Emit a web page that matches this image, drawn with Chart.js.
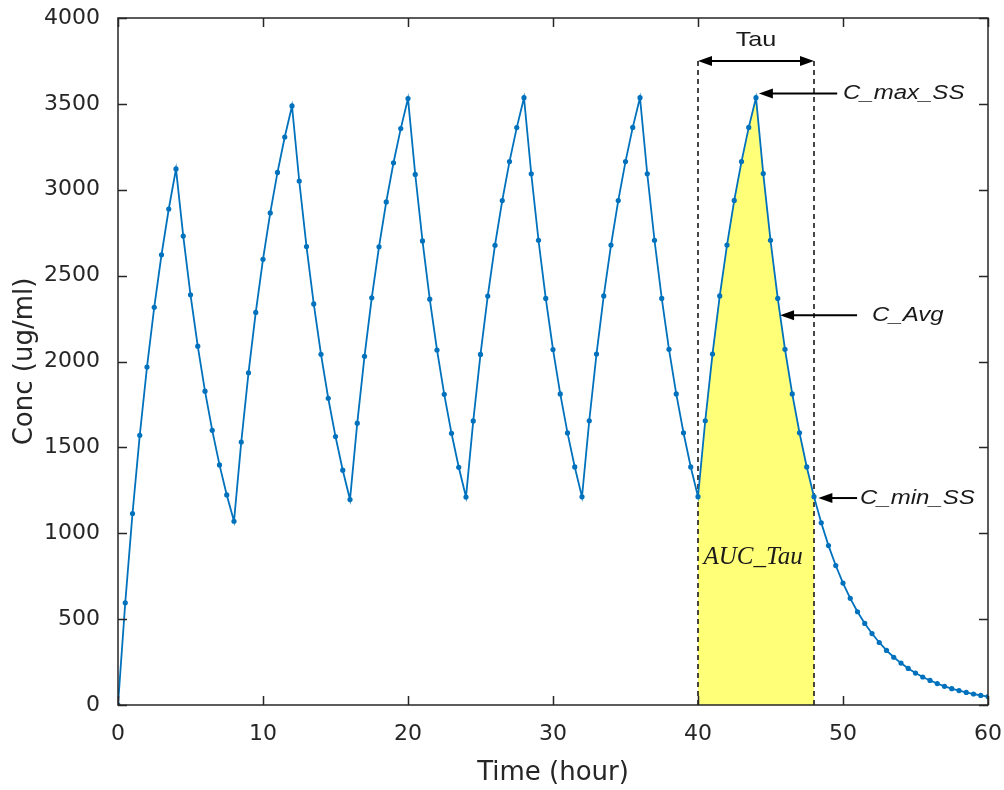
<!DOCTYPE html>
<html>
<head>
<meta charset="utf-8">
<script src="https://cdn.jsdelivr.net/npm/chart.js@4.4.1/dist/chart.umd.min.js"></script>
<style>
  body { margin: 0; background: #fff; }
  #concChart { display: block; }
</style>
</head>
<body>
<canvas id="concChart" width="1004" height="790"></canvas>
<script>
// sampling times (hour)
const times = [
  0, 0.5, 1, 1.5, 2, 2.5, 3, 3.5, 4, 4.5, 5, 5.5, 6, 6.5, 7, 7.5, 8, 8.5, 9, 9.5,
  10, 10.5, 11, 11.5, 12, 12.5, 13, 13.5, 14, 14.5, 15, 15.5, 16, 16.5, 17, 17.5, 18, 18.5, 19, 19.5,
  20, 20.5, 21, 21.5, 22, 22.5, 23, 23.5, 24, 24.5, 25, 25.5, 26, 26.5, 27, 27.5, 28, 28.5, 29, 29.5,
  30, 30.5, 31, 31.5, 32, 32.5, 33, 33.5, 34, 34.5, 35, 35.5, 36, 36.5, 37, 37.5, 38, 38.5, 39, 39.5,
  40, 40.5, 41, 41.5, 42, 42.5, 43, 43.5, 44, 44.5, 45, 45.5, 46, 46.5, 47, 47.5, 48, 48.5, 49, 49.5,
  50, 50.5, 51, 51.5, 52, 52.5, 53, 53.5, 54, 54.5, 55, 55.5, 56, 56.5, 57, 57.5, 58, 58.5, 59, 59.5,
  60
];

// concentration (ug/ml)
const conc = [
  0, 595, 1115, 1570, 1968, 2316, 2621, 2888, 3121, 2730, 2388, 2089, 1827, 1599, 1398, 1223, 1070,
  1531, 1934, 2286, 2595, 2865, 3101, 3307, 3488, 3051, 2669, 2335, 2042, 1786, 1563, 1367, 1196,
  1641, 2030, 2371, 2668, 2929, 3157, 3356, 3531, 3089, 2702, 2363, 2067, 1809, 1582, 1384, 1211,
  1654, 2041, 2381, 2677, 2937, 3164, 3362, 3536, 3093, 2706, 2367, 2070, 1811, 1584, 1386, 1212,
  1655, 2043, 2382, 2678, 2937, 3164, 3363, 3536, 3093, 2706, 2367, 2071, 1811, 1585, 1386, 1213,
  1655, 2043, 2382, 2678, 2938, 3164, 3363, 3536, 3094, 2706, 2367, 2071, 1811, 1585, 1386, 1213,
  1061, 928, 812, 710, 621, 543, 475, 416, 364, 318, 278, 244, 213, 186, 163, 143, 125, 109, 95, 84,
  73, 64, 56, 49
];

const xTicks = [0, 10, 20, 30, 40, 50, 60];
const yTicks = [0, 500, 1000, 1500, 2000, 2500, 3000, 3500, 4000];

// steady-state dosing interval
const tauStart = 40;
const tauEnd = 48;
const tauTop = 3750;

const axisColor = '#262626';
const lineBlue = '#0072BD';

const points = times.map((t, i) => ({ x: t, y: conc[i] }));
const i0 = times.indexOf(tauStart);
const i1 = times.indexOf(tauEnd);
const aucPoints = points.slice(i0, i1 + 1);

// annotation anchors in data units
const notes = [
  { text: 'C_max_SS', tipX: 44.2, tailX: 49.6, textX: 50.0, y: 3560 },
  { text: 'C_Avg', tipX: 45.66, tailX: 50.97, textX: 52.0, y: 2270 },
  { text: 'C_min_SS', tipX: 48.3, tailX: 50.97, textX: 51.17, y: 1205 }
];

function arrowHead(ctx, x, y, dir) {
  ctx.beginPath();
  ctx.moveTo(x, y);
  ctx.lineTo(x + dir * 14, y - 5);
  ctx.lineTo(x + dir * 14, y + 5);
  ctx.closePath();
  ctx.fill();
}

function stretchedText(ctx, str, x, y, align) {
  ctx.save();
  ctx.translate(x, y);
  ctx.scale(1.2, 1);
  ctx.textAlign = align;
  ctx.fillText(str, 0, 0);
  ctx.restore();
}

const decorPlugin = {
  id: 'decor',
  afterDatasetsDraw(chart) {
    const { ctx, chartArea: a, scales: { x, y } } = chart;
    ctx.save();

    // box and inward ticks, matlab style
    ctx.strokeStyle = axisColor;
    ctx.lineWidth = 1.5;
    ctx.strokeRect(a.left, a.top, a.right - a.left, a.bottom - a.top);
    ctx.beginPath();
    xTicks.forEach(v => {
      const px = Math.round(x.getPixelForValue(v)) + 0.5;
      ctx.moveTo(px, a.bottom); ctx.lineTo(px, a.bottom - 9);
      ctx.moveTo(px, a.top); ctx.lineTo(px, a.top + 9);
    });
    yTicks.forEach(v => {
      const py = Math.round(y.getPixelForValue(v)) + 0.5;
      ctx.moveTo(a.left, py); ctx.lineTo(a.left + 9, py);
      ctx.moveTo(a.right, py); ctx.lineTo(a.right - 9, py);
    });
    ctx.stroke();

    // Tau double arrow
    ctx.strokeStyle = '#000';
    ctx.fillStyle = '#000';
    ctx.lineWidth = 2;
    const tx0 = x.getPixelForValue(tauStart);
    const tx1 = x.getPixelForValue(tauEnd);
    const ty = y.getPixelForValue(tauTop);
    ctx.beginPath();
    ctx.moveTo(tx0 + 10, ty); ctx.lineTo(tx1 - 10, ty);
    ctx.stroke();
    arrowHead(ctx, tx0, ty, 1);
    arrowHead(ctx, tx1, ty, -1);

    ctx.fillStyle = '#1a1a1a';
    ctx.textBaseline = 'middle';
    ctx.font = '21px "Liberation Sans"';
    stretchedText(ctx, 'Tau', (tx0 + tx1) / 2, y.getPixelForValue(3870), 'center');

    // pointer arrows
    notes.forEach(n => {
      const py = y.getPixelForValue(n.y);
      const tip = x.getPixelForValue(n.tipX);
      const tail = x.getPixelForValue(n.tailX);
      ctx.strokeStyle = '#000';
      ctx.fillStyle = '#000';
      ctx.beginPath();
      ctx.moveTo(tip + 10, py); ctx.lineTo(tail, py);
      ctx.stroke();
      arrowHead(ctx, tip, py, 1);
      ctx.fillStyle = '#1a1a1a';
      ctx.font = 'italic 20px "Liberation Sans"';
      stretchedText(ctx, n.text, x.getPixelForValue(n.textX), py, 'left');
    });

    ctx.font = 'italic 25px "Liberation Serif"';
    ctx.textAlign = 'center';
    ctx.fillText('AUC_Tau', x.getPixelForValue(43.8), y.getPixelForValue(862));

    ctx.restore();
  }
};

new Chart(document.getElementById('concChart'), {
  type: 'line',
  data: {
    datasets: [
      {
        data: points,
        borderColor: lineBlue,
        backgroundColor: lineBlue,
        borderWidth: 1.8,
        pointRadius: 2.6,
        pointBorderWidth: 0,
        pointBackgroundColor: lineBlue,
        tension: 0,
        order: 0
      },
      {
        data: aucPoints,
        borderWidth: 0,
        pointRadius: 0,
        fill: 'origin',
        backgroundColor: '#ffff78',
        order: 2
      },
      {
        data: [{ x: tauStart, y: 0 }, { x: tauStart, y: tauTop }],
        borderColor: '#1a1a1a',
        borderWidth: 1.6,
        borderDash: [5, 4],
        pointRadius: 0,
        order: 1
      },
      {
        data: [{ x: tauEnd, y: 0 }, { x: tauEnd, y: tauTop }],
        borderColor: '#1a1a1a',
        borderWidth: 1.6,
        borderDash: [5, 4],
        pointRadius: 0,
        order: 1
      }
    ]
  },
  options: {
    responsive: false,
    animation: false,
    devicePixelRatio: 1,
    layout: { padding: { top: 18, right: 16, left: 0, bottom: 0 } },
    plugins: {
      legend: { display: false },
      tooltip: { enabled: false }
    },
    scales: {
      x: {
        type: 'linear',
        min: 0,
        max: 60,
        afterBuildTicks: s => { s.ticks = xTicks.map(v => ({ value: v })); },
        afterFit: s => { s.height = 85; s.paddingLeft = 0; s.paddingRight = 0; },
        grid: { display: false },
        border: { display: false },
        ticks: {
          color: axisColor,
          padding: 8,
          maxRotation: 0,
          font: { family: 'DejaVu Sans', size: 22 }
        },
        title: {
          display: true,
          text: 'Time (hour)',
          color: axisColor,
          padding: { top: 0, bottom: 1 },
          font: { family: 'DejaVu Sans', size: 26 }
        }
      },
      y: {
        min: 0,
        max: 4000,
        afterBuildTicks: s => { s.ticks = yTicks.map(v => ({ value: v })); },
        afterFit: s => { s.width = 118; s.paddingTop = 0; s.paddingBottom = 0; },
        grid: { display: false },
        border: { display: false },
        ticks: {
          color: axisColor,
          padding: 10,
          callback: v => String(v),
          font: { family: 'DejaVu Sans', size: 22 }
        },
        title: {
          display: true,
          text: 'Conc (ug/ml)',
          color: axisColor,
          padding: { top: 10, bottom: 0 },
          font: { family: 'DejaVu Sans', size: 26 }
        }
      }
    }
  },
  plugins: [decorPlugin]
});
</script>
</body>
</html>
